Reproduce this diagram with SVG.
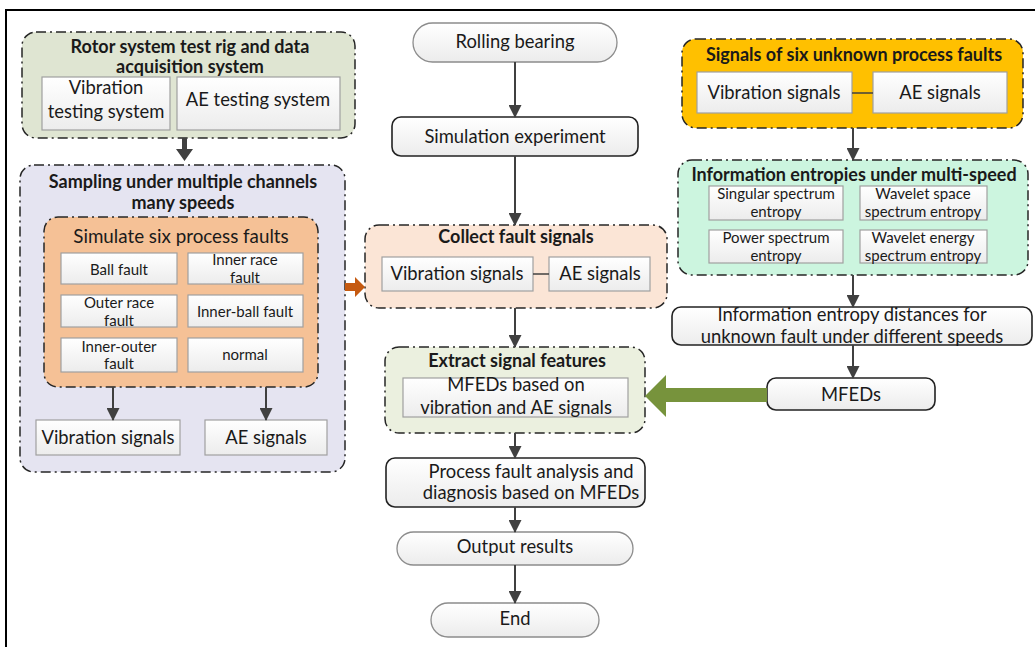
<svg xmlns="http://www.w3.org/2000/svg" width="1035" height="647" viewBox="0 0 1035 647">
<defs>
<linearGradient id="gbox" x1="0" y1="0" x2="0" y2="1"><stop offset="0" stop-color="#ffffff"/><stop offset="1" stop-color="#ececec"/></linearGradient>
<marker id="ah" viewBox="0 0 13 13" refX="12" refY="6.5" markerWidth="13" markerHeight="13" markerUnits="userSpaceOnUse" orient="auto"><path d="M0,0 L13,6.5 L0,13 z" fill="#404040"/></marker>
<style>
text{font-family:Lato,"Liberation Sans",sans-serif;fill:#1a1a1a;text-anchor:middle}
.t{font-size:18.4px}
.b{font-size:18px;font-weight:bold}
.s{font-size:15px}
.grp{stroke:#262626;stroke-width:1.5;stroke-dasharray:10 4 2 4}
.box{fill:url(#gbox);stroke:#a0a0a0;stroke-width:1.2}
.term{fill:url(#gbox);stroke:#8c8c8c;stroke-width:1.3}
.proc{fill:url(#gbox);stroke:#222;stroke-width:1.6}
.c{stroke:#404040;stroke-width:2;fill:none}
</style>
</defs>
<rect width="1035" height="647" fill="#ffffff"/>
<path d="M6,647 V10 H1035" fill="none" stroke="#000" stroke-width="2"/>

<g id="rig">
<rect class="grp" x="22" y="32" width="333" height="106" rx="14" fill="#dfe5d2"/>
<text class="b" x="190" y="53">Rotor system test rig and data</text>
<text class="b" x="190" y="73">acquisition system</text>
<rect class="box" x="42" y="77" width="128" height="53"/>
<text class="t" x="106" y="94">Vibration</text>
<text class="t" x="106" y="118">testing system</text>
<rect class="box" x="177" y="77" width="163" height="53"/>
<text class="t" x="258" y="106">AE testing system</text>
</g>

<g id="sampling">
<rect class="grp" x="20" y="165" width="325" height="307" rx="14" fill="#e5e4f1"/>
<text class="b" x="183" y="188">Sampling under multiple channels</text>
<text class="b" x="183" y="209">many speeds</text>
</g>

<g id="simulate">
<rect class="grp" x="44" y="217" width="274" height="170" rx="14" fill="#f5c196"/>
<text class="t" x="181" y="243" style="font-size:18.8px">Simulate six process faults</text>
<rect class="box" x="61" y="253" width="116" height="31"/>
<text class="s" x="119" y="275">Ball fault</text>
<rect class="box" x="188" y="253" width="115" height="31"/>
<text class="s" x="245" y="265">Inner race</text>
<text class="s" x="245" y="283">fault</text>
<rect class="box" x="61" y="295" width="116" height="32"/>
<text class="s" x="119" y="308">Outer race</text>
<text class="s" x="119" y="326">fault</text>
<rect class="box" x="188" y="295" width="115" height="32"/>
<text class="s" x="245" y="317">Inner-ball fault</text>
<rect class="box" x="61" y="338" width="116" height="34"/>
<text class="s" x="119" y="352">Inner-outer</text>
<text class="s" x="119" y="369">fault</text>
<rect class="box" x="188" y="338" width="115" height="34"/>
<text class="s" x="245" y="360">normal</text>
</g>

<g id="left-vib">
<rect class="box" x="36" y="420" width="144" height="35"/>
<text class="t" x="108" y="444">Vibration signals</text>
</g>
<g id="left-ae">
<rect class="box" x="205" y="420" width="122" height="35"/>
<text class="t" x="266" y="444">AE signals</text>
</g>

<g id="rolling">
<rect class="term" x="413" y="23" width="204" height="39" rx="19.5"/>
<text class="t" x="515" y="48">Rolling bearing</text>
</g>
<g id="simexp">
<rect class="proc" x="392" y="117" width="246" height="39" rx="9"/>
<text class="t" x="515" y="143">Simulation experiment</text>
</g>
<g id="collect">
<rect class="grp" x="365" y="225" width="302" height="83" rx="14" fill="#fbe5d6"/>
<text class="b" x="516" y="243">Collect fault signals</text>
<rect class="box" x="382" y="257" width="151" height="34"/>
<text class="t" x="457" y="280">Vibration signals</text>
<rect class="box" x="549" y="257" width="101" height="34"/>
<text class="t" x="600" y="280">AE signals</text>
<line x1="533" y1="274" x2="549" y2="274" stroke="#404040" stroke-width="1.5"/>
</g>
<g id="extract">
<rect class="grp" x="385" y="347" width="260" height="86" rx="14" fill="#ebf0df"/>
<text class="b" x="517" y="367">Extract signal features</text>
<rect class="box" x="403" y="378" width="225" height="39"/>
<text class="t" x="516" y="391">MFEDs based on</text>
<text class="t" x="516" y="414">vibration and AE signals</text>
</g>
<g id="process">
<rect class="proc" x="386" y="458" width="259" height="49" rx="9"/>
<text class="t" x="531" y="478">Process fault analysis and</text>
<text class="t" x="531" y="499">diagnosis based on MFEDs</text>
</g>
<g id="output">
<rect class="term" x="397" y="532" width="236" height="33" rx="16.5"/>
<text class="t" x="515" y="553">Output results</text>
</g>
<g id="end">
<rect class="term" x="431" y="603" width="168" height="34" rx="17"/>
<text class="t" x="515" y="625">End</text>
</g>

<g id="unknown">
<rect class="grp" x="682" y="39" width="341" height="89" rx="14" fill="#ffc000"/>
<text class="b" x="854" y="61">Signals of six unknown process faults</text>
<rect class="box" x="697" y="72" width="155" height="41"/>
<text class="t" x="774" y="99">Vibration signals</text>
<rect class="box" x="873" y="72" width="134" height="41"/>
<text class="t" x="940" y="99">AE signals</text>
<line x1="852" y1="93" x2="873" y2="93" stroke="#404040" stroke-width="1.5"/>
</g>
<g id="entropies">
<rect class="grp" x="678" y="160" width="350" height="115" rx="14" fill="#ccf5df"/>
<text class="b" x="854" y="181">Information entropies under multi-speed</text>
<rect class="box" x="709" y="186" width="134" height="34"/>
<text class="s" x="776" y="199">Singular spectrum</text>
<text class="s" x="776" y="217">entropy</text>
<rect class="box" x="860" y="186" width="127" height="34"/>
<text class="s" x="923" y="199">Wavelet space</text>
<text class="s" x="923" y="217">spectrum entropy</text>
<rect class="box" x="709" y="230" width="134" height="33"/>
<text class="s" x="776" y="243">Power spectrum</text>
<text class="s" x="776" y="261">entropy</text>
<rect class="box" x="860" y="230" width="127" height="33"/>
<text class="s" x="923" y="243">Wavelet energy</text>
<text class="s" x="923" y="261">spectrum entropy</text>
</g>
<g id="distances">
<rect class="proc" x="672" y="307" width="360" height="38" rx="9"/>
<text class="t" x="852" y="321">Information entropy distances for</text>
<text class="t" x="852" y="343">unknown fault under different speeds</text>
</g>
<g id="mfeds">
<rect class="proc" x="767" y="378" width="168" height="32" rx="9"/>
<text class="t" x="851" y="401">MFEDs</text>
</g>

<g id="connectors">
<polygon points="182,138 187,138 187,149 193,149 184.5,161 176,149 182,149" fill="#404040"/>
<line class="c" x1="113" y1="387" x2="113" y2="420" marker-end="url(#ah)"/>
<line class="c" x1="266" y1="387" x2="266" y2="420" marker-end="url(#ah)"/>
<polygon points="345,283 355,283 355,277 365,287 355,297 355,291 345,291" fill="#c55a11"/>
<line class="c" x1="515" y1="62" x2="515" y2="117" marker-end="url(#ah)"/>
<line class="c" x1="515" y1="156" x2="515" y2="225" marker-end="url(#ah)"/>
<line class="c" x1="515" y1="308" x2="515" y2="347" marker-end="url(#ah)"/>
<line class="c" x1="515" y1="433" x2="515" y2="458" marker-end="url(#ah)"/>
<line class="c" x1="515" y1="507" x2="515" y2="532" marker-end="url(#ah)"/>
<line class="c" x1="515" y1="565" x2="515" y2="603" marker-end="url(#ah)"/>
<line class="c" x1="853" y1="128" x2="853" y2="160" marker-end="url(#ah)"/>
<line class="c" x1="853" y1="275" x2="853" y2="307" marker-end="url(#ah)"/>
<line class="c" x1="853" y1="345" x2="853" y2="378" marker-end="url(#ah)"/>
<polygon points="767,388 666,388 666,375 645,396 666,417 666,402 767,402" fill="#77933c"/>
</g>
</svg>
